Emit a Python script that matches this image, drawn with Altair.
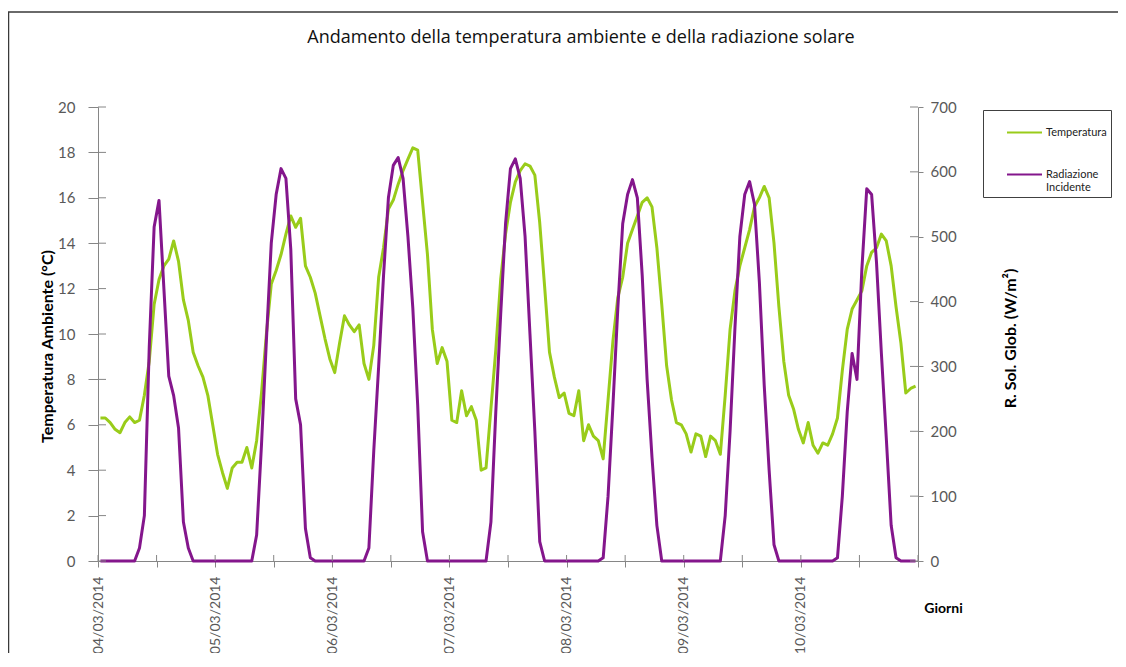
import json
import altair as alt
import pandas as pd

# ---- data (hourly, 04/03/2014 00:00 -> 10/03/2014 23:00) ----
temperatura = [
    6.3, 6.3, 6.1, 5.8, 5.65, 6.1, 6.35, 6.1, 6.2, 7.3, 8.8, 11.3, 12.4, 13.0, 13.3, 14.1, 13.2, 11.5, 10.6, 9.2, 8.6, 8.1, 7.3, 6.0,
    4.7, 3.9, 3.2, 4.1, 4.35, 4.35, 5.0, 4.1, 5.3, 7.4, 10.0, 12.2, 12.8, 13.5, 14.4, 15.2, 14.7, 15.1, 13.0, 12.5, 11.8, 10.8, 9.8, 8.9,
    8.3, 9.6, 10.8, 10.4, 10.1, 10.4, 8.7, 8.0, 9.5, 12.5, 13.8, 15.5, 15.9, 16.6, 17.2, 17.7, 18.2, 18.1, 15.8, 13.5, 10.2, 8.7, 9.4, 8.8,
    6.2, 6.1, 7.5, 6.4, 6.8, 6.2, 4.0, 4.1, 6.7, 9.3, 12.4, 14.4, 15.8, 16.7, 17.2, 17.5, 17.4, 17.0, 14.9, 12.1, 9.2, 8.1, 7.2, 7.4,
    6.5, 6.4, 7.5, 5.3, 6.0, 5.5, 5.3, 4.5, 7.1, 9.7, 11.6, 12.5, 14.0, 14.6, 15.2, 15.8, 16.0, 15.6, 13.8, 11.3, 8.6, 7.1, 6.1, 6.0,
    5.6, 4.8, 5.6, 5.5, 4.6, 5.5, 5.3, 4.7, 7.3, 10.2, 11.9, 13.0, 13.8, 14.6, 15.6, 16.0, 16.5, 16.0, 14.0, 11.2, 8.8, 7.3, 6.7, 5.8,
    5.2, 6.1, 5.1, 4.75, 5.2, 5.1, 5.6, 6.3, 8.4, 10.2, 11.1, 11.5, 11.9, 13.0, 13.6, 13.8, 14.4, 14.1, 13.0, 11.2, 9.6, 7.4, 7.6, 7.7,
]
radiazione = [
    0, 0, 0, 0, 0, 0, 0, 0, 20, 70, 330, 515, 556, 420, 285, 255, 205, 60, 20, 0, 0, 0, 0, 0,
    0, 0, 0, 0, 0, 0, 0, 0, 40, 180, 340, 490, 565, 605, 590, 480, 250, 210, 50, 5, 0, 0, 0, 0,
    0, 0, 0, 0, 0, 0, 0, 20, 170, 300, 440, 560, 610, 622, 590, 500, 390, 240, 45, 0, 0, 0, 0, 0,
    0, 0, 0, 0, 0, 0, 0, 0, 60, 230, 380, 520, 605, 620, 590, 500, 350, 200, 30, 0, 0, 0, 0, 0,
    0, 0, 0, 0, 0, 0, 0, 5, 100, 240, 390, 520, 565, 588, 560, 440, 280, 160, 55, 0, 0, 0, 0, 0,
    0, 0, 0, 0, 0, 0, 0, 0, 70, 200, 360, 500, 565, 585, 550, 430, 270, 140, 25, 0, 0, 0, 0, 0,
    0, 0, 0, 0, 0, 0, 0, 5, 100, 230, 320, 280, 450, 574, 565, 460, 320, 190, 55, 5, 0, 0, 0, 0,
]
ore = list(range(168))
date_labels = ["04/03/2014", "05/03/2014", "06/03/2014", "07/03/2014",
               "08/03/2014", "09/03/2014", "10/03/2014"]
serie = ["Temperatura", "Radiazione Incidente"]
x_ticks = list(range(0, 169, 12))
y_left_ticks = list(range(0, 21, 2))
y_right_ticks = list(range(0, 701, 100))

GREEN = "#99CC1A"
PURPLE = "#84168C"
AXIS = "#868686"
LABEL = "#595959"
FONT = "Lato"
W, H = 820, 454

df_t = pd.DataFrame({"ora": [h + 0.5 for h in ore], "valore": temperatura, "serie": serie[0]})
df_r = pd.DataFrame({"ora": [h + 0.5 for h in ore], "valore": radiazione, "serie": serie[1]})
df_xt = pd.DataFrame({"ora": x_ticks})
df_lt = pd.DataFrame({"v": y_left_ticks})
df_rt = pd.DataFrame({"v": y_right_ticks})
df_frame = pd.DataFrame({"k": [0]})

labels_js = json.dumps(date_labels)
x_enc = alt.X(
    "ora:Q",
    scale=alt.Scale(domain=[0, 168], nice=False, zero=False),
    axis=alt.Axis(
        values=x_ticks,
        labelExpr=f"(datum.value % 24 == 0 && datum.value < 168) ? {labels_js}[datum.value / 24] : ''",
        labelAngle=270, labelFlush=False, labelOverlap=False,
        labelFontSize=14, labelColor=LABEL, labelPadding=9,
        tickSize=6, tickColor=AXIS, domainColor=AXIS, grid=False,
        title="Giorni", titleX=845, titleY=47, titleAlign="center",
        titleBaseline="middle", titleFontSize=14, titleFontWeight="bold",
    ),
)

color = alt.Color(
    "serie:N",
    scale=alt.Scale(domain=serie, range=[GREEN, PURPLE]),
    legend=alt.Legend(
        title=None, orient="none", legendX=885, legendY=3,
        symbolType="stroke", symbolSize=1225, symbolStrokeWidth=2,
        symbolOffset=19, labelFontSize=11, labelColor="#222222",
        labelOffset=3, rowPadding=18, padding=4,
        strokeColor="#404040",
        labelExpr="datum.label == 'Radiazione Incidente' ? ['Radiazione', 'Incidente'] : datum.label",
    ),
)

temp_line = alt.Chart(df_t).mark_line(strokeWidth=3, strokeJoin="round").encode(
    x=x_enc,
    y=alt.Y(
        "valore:Q",
        scale=alt.Scale(domain=[0, 20], nice=False),
        axis=alt.Axis(
            values=y_left_ticks, orient="left", grid=False,
            tickSize=10, tickColor=AXIS, domainColor=AXIS,
            labelFontSize=15, labelColor=LABEL, labelPadding=13,
            title="Temperatura Ambiente (°C)", titleAngle=270,
            titleX=-51, titleY=239, titleAlign="center", titleBaseline="middle",
            titleFontSize=16, titleFontWeight="bold",
        ),
    ),
    color=color,
)

rad_line = alt.Chart(df_r).mark_line(strokeWidth=3, strokeJoin="round").encode(
    x=alt.X("ora:Q"),
    y=alt.Y(
        "valore:Q",
        scale=alt.Scale(domain=[0, 700], nice=False),
        axis=alt.Axis(
            values=y_right_ticks, orient="right", grid=False,
            tickSize=5, tickColor=AXIS, domainColor=AXIS,
            labelFontSize=15, labelColor=LABEL, labelPadding=7,
            title="R. Sol. Glob. (W/m²)", titleAngle=270,
            titleX=92, titleY=231, titleAlign="center", titleBaseline="middle",
            titleFontSize=16, titleFontWeight="bold",
        ),
    ),
    color=color,
)

# inner halves of the crossing tick marks
x_inner = alt.Chart(df_xt).mark_rule(color=AXIS).encode(
    x=alt.X("ora:Q"), y=alt.value(H - 6), y2=alt.value(H)
)
l_inner = alt.Chart(df_lt).mark_rule(color=AXIS).encode(
    y=alt.Y("v:Q", scale=alt.Scale(domain=[0, 20], nice=False), axis=None),
    x=alt.value(0), x2=alt.value(8),
)
r_inner = alt.Chart(df_rt).mark_rule(color=AXIS).encode(
    y=alt.Y("v:Q", scale=alt.Scale(domain=[0, 700], nice=False), axis=None),
    x=alt.value(W - 8), x2=alt.value(W),
)

# chart-area border (decoration)
frame = alt.Chart(df_frame).mark_rect(fill=None, stroke="#3a3a3a", strokeWidth=1.5).encode(
    x=alt.value(-89.5), x2=alt.value(W + 240),
    y=alt.value(-95), y2=alt.value(H + 160),
)

chart = (
    alt.layer(frame, temp_line, rad_line, x_inner, l_inner, r_inner)
    .resolve_scale(y="independent")
    .properties(
        width=W, height=H,
        padding={"left": 90, "top": 99, "right": 200, "bottom": 92},
        autosize=alt.AutoSizeParams(type="none"),
        title=alt.TitleParams(
            text="Andamento della temperatura ambiente e della radiazione solare",
            anchor="middle", dx=73, offset=-50, baseline="alphabetic",
            fontSize=18, fontWeight="normal", color="#111111", font="Open Sans",
        ),
    )
    .configure(font=FONT)
    .configure_view(stroke=None)
    .configure_axis(labelFont=FONT, titleFont=FONT)
    .configure_legend(labelFont=FONT)
)

chart.save("out.html", embed_options={"renderer": "svg", "actions": False})
